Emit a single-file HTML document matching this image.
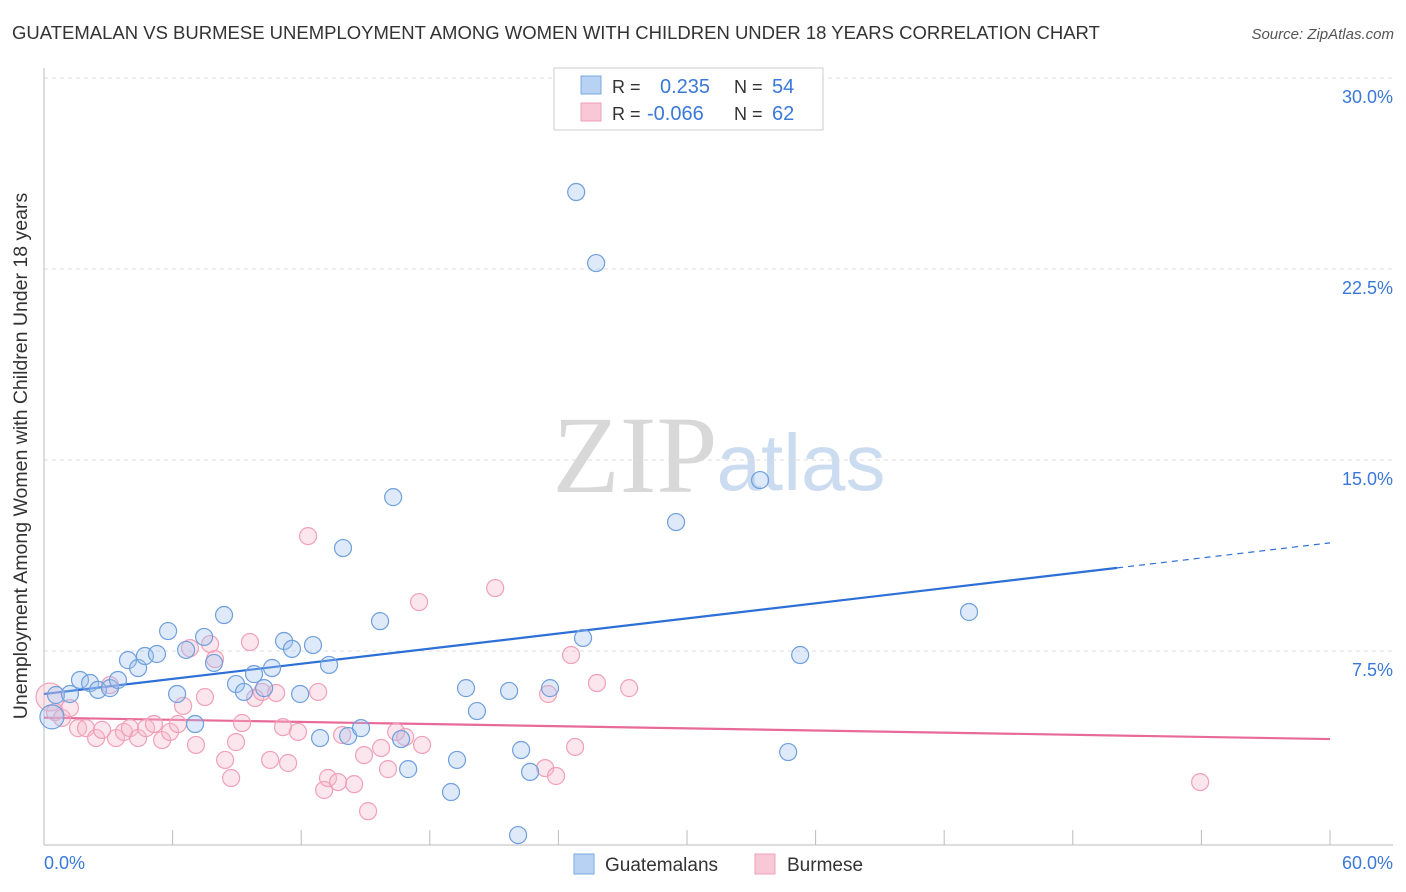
<!DOCTYPE html>
<html><head><meta charset="utf-8"><style>
body{margin:0;background:#fff;font-family:"Liberation Sans",sans-serif;}
svg{display:block}
</style></head><body>
<svg id="chart" width="1406" height="892" xmlns="http://www.w3.org/2000/svg">
<text x="12" y="39" font-size="18.5" fill="#333">GUATEMALAN VS BURMESE UNEMPLOYMENT AMONG WOMEN WITH CHILDREN UNDER 18 YEARS CORRELATION CHART</text>
<text x="1394" y="39" font-size="15" fill="#555" font-style="italic" text-anchor="end">Source: ZipAtlas.com</text>
<text x="635" y="492" font-size="110" font-family="Liberation Serif,serif" fill="#d8d8d8" text-anchor="middle">ZIP</text>
<text x="801" y="490" font-size="80" fill="#ccdcf0" text-anchor="middle">atlas</text>
<g id="grid"></g>
<g id="axes"></g>
<g id="lines"></g>
<g id="points"></g>
<text x="27" y="456" font-size="19.5" fill="#333" text-anchor="middle" transform="rotate(-90 27 456)">Unemployment Among Women with Children Under 18 years</text>
<text x="44" y="869" font-size="18" fill="#3a78d8">0.0%</text>
<text x="1393" y="869" font-size="18" fill="#3a78d8" text-anchor="end">60.0%</text>
<g>
<rect x="554" y="68" width="269" height="62" fill="#fff" stroke="#ccc"/>
<rect x="581" y="76" width="20" height="18" fill="#b8d2f4" stroke="#7aa8e0"/>
<rect x="581" y="103" width="20" height="18" fill="#f9c8d6" stroke="#f0a0b8"/>
<text x="612" y="93" font-size="18" fill="#333">R =</text>
<text x="660" y="93" font-size="20" fill="#3a78d8">0.235</text>
<text x="734" y="93" font-size="18" fill="#333">N =</text>
<text x="772" y="93" font-size="20" fill="#3a78d8">54</text>
<text x="612" y="120" font-size="18" fill="#333">R =</text>
<text x="647" y="120" font-size="20" fill="#3a78d8">-0.066</text>
<text x="734" y="120" font-size="18" fill="#333">N =</text>
<text x="772" y="120" font-size="20" fill="#3a78d8">62</text>
</g>
<g>
<rect x="574" y="854" width="20" height="20" fill="#b8d2f4" stroke="#7aa8e0"/>
<text x="605" y="871" font-size="19" fill="#333">Guatemalans</text>
<rect x="755" y="854" width="20" height="20" fill="#f9c8d6" stroke="#f0a0b8"/>
<text x="787" y="871" font-size="19" fill="#333">Burmese</text>
</g>
</svg>
<script>
const yTicks=[7.5,15,22.5,30];
const xTicks=[0,6,12,18,24,30,36,42,48,54,60];
const blueX=[0.37,0.56,1.21,1.68,2.15,2.52,3.08,3.45,3.92,4.39,4.71,5.27,5.79,6.21,6.63,7.05,7.47,7.93,8.40,8.96,9.33,9.80,10.27,10.64,11.20,11.57,11.95,12.55,12.88,13.30,13.95,14.19,14.79,15.68,16.29,16.66,16.99,18.99,19.27,19.69,20.20,21.70,22.12,22.26,22.68,23.61,24.83,25.15,25.76,29.49,33.41,34.72,35.28,43.16];
const blueY=[5.03,5.89,5.93,6.48,6.36,6.09,6.16,6.48,7.26,6.95,7.42,7.50,8.40,5.93,7.66,4.75,8.17,7.15,9.03,6.32,6.01,6.71,6.16,6.95,8.01,7.70,5.93,7.85,4.20,7.07,11.66,4.28,4.59,8.79,13.66,4.16,2.98,2.08,3.34,6.16,5.26,6.05,0.39,3.73,2.87,6.16,25.64,8.13,22.85,12.68,14.33,3.65,7.46,9.15];
const pinkX=[0.28,0.51,0.84,1.21,1.59,1.96,2.43,2.71,3.08,3.36,3.73,4.01,4.39,4.76,5.13,5.51,5.88,6.25,6.49,6.81,7.09,7.51,7.75,7.98,8.45,8.73,8.96,9.24,9.61,9.85,10.17,10.55,10.83,11.15,11.39,11.85,12.32,12.79,13.07,13.25,13.72,13.91,14.47,14.93,15.73,16.05,16.43,16.85,17.50,17.64,21.05,23.38,23.52,23.89,24.59,24.78,25.80,27.30,53.94,15.12];
const pinkY=[5.81,5.22,4.99,5.38,4.59,4.59,4.20,4.52,6.28,4.20,4.44,4.59,4.20,4.59,4.75,4.12,4.44,4.75,5.46,7.73,3.93,5.81,7.89,7.30,3.34,2.63,4.04,4.79,7.97,5.77,6.01,3.34,5.97,4.63,3.22,4.44,12.13,6.01,2.16,2.63,2.47,4.32,2.39,3.53,3.81,2.98,4.44,4.24,9.54,3.93,10.09,3.02,5.93,2.71,7.46,3.85,6.36,6.16,2.47,1.33];
const blueFit=[5.93,0.0989];
const pinkFit=[5.00,-0.014];
const X=v=>44+v*(1286/60);
const Y=v=>845-v*(191/7.5);
const NS="http://www.w3.org/2000/svg";
function mk(tag,attrs,parent){const e=document.createElementNS(NS,tag);for(const k in attrs)e.setAttribute(k,attrs[k]);document.getElementById(parent).appendChild(e);return e;}
yTicks.forEach(t=>{
 const l=mk('line',{x1:44,x2:1393,y1:Y(t)-3,y2:Y(t)-3,stroke:'#ddd','stroke-dasharray':'4 4'},'grid');
 
 
 const tx=mk('text',{x:1393,y:Y(t)+22,'font-size':18,fill:'#3a78d8','text-anchor':'end'},'grid');
 tx.textContent=t.toFixed(1)+'%';
 
 
});
let a=mk('line',{x1:44,x2:44,y1:68,y2:845,stroke:'#bbb'},'axes');


a=mk('line',{x1:44,x2:1393,y1:845,y2:845,stroke:'#bbb'},'axes');


xTicks.forEach(t=>{const l=mk('line',{x1:X(t),x2:X(t),y1:830,y2:845,stroke:'#bbb'},'axes');
 
 });
function pts(xs,ys,fill,stroke,name){xs.forEach((x,i)=>{
 const r=(i===0)?(name==='pink-point'?14:12):8.5;
 const c=mk('circle',{cx:X(x),cy:Y(ys[i]),r:r,fill:fill,stroke:stroke,'stroke-width':1.2},'points');
 
 });}
pts(pinkX,pinkY,'rgba(246,182,202,0.35)','#f0a0b8','pink-point');
pts(blueX,blueY,'rgba(160,196,240,0.35)','#6f9fdc','blue-point');
let l=mk('line',{x1:X(0),y1:Y(blueFit[0]),x2:X(50.07),y2:Y(blueFit[0]+blueFit[1]*50.07),stroke:'#2c6fd6','stroke-width':2.2},'lines');


l=mk('line',{x1:X(50.07),y1:Y(blueFit[0]+blueFit[1]*50.07),x2:X(60),y2:Y(blueFit[0]+blueFit[1]*60),stroke:'#2c6fd6','stroke-width':1.2,'stroke-dasharray':'6 5'},'lines');


l=mk('line',{x1:X(0),y1:Y(pinkFit[0]),x2:X(60),y2:Y(pinkFit[0]+pinkFit[1]*60),stroke:'#e86a98','stroke-width':2.2},'lines');


</script>
</body></html>
